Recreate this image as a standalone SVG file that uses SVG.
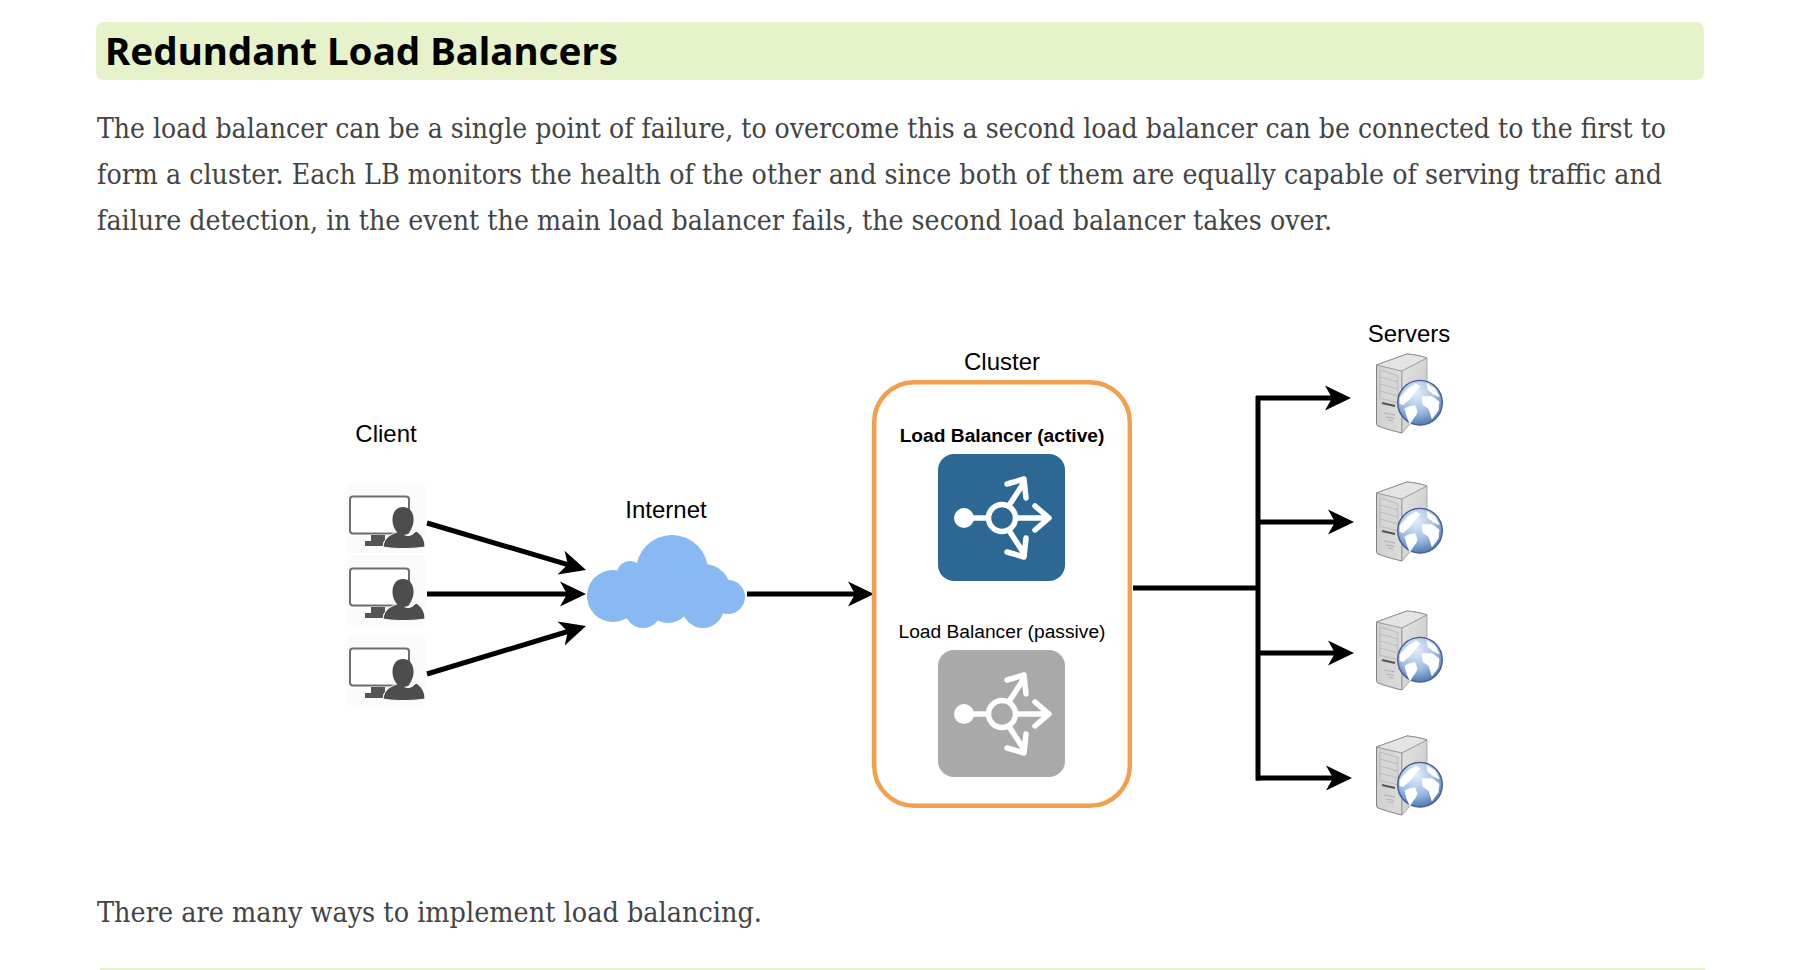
<svg xmlns="http://www.w3.org/2000/svg" width="1818" height="970" viewBox="0 0 1818 970">
<style>
.body{font-family:"DejaVu Serif","Liberation Serif",serif;font-size:27px;fill:#444}
.lbl{font-family:"Liberation Sans",Arial,sans-serif;font-size:24px;fill:#000;text-anchor:middle}
.lb{font-family:"Liberation Sans",Arial,sans-serif;font-size:19.2px;fill:#000;text-anchor:middle}
.conn{stroke:#000;stroke-width:5;fill:none;stroke-linejoin:miter}
.ar{marker-end:url(#arrow)}
.ico{stroke:#fff;stroke-width:5.5;fill:none;stroke-linecap:round;stroke-linejoin:round}
</style>
<defs>
<marker id="arrow" markerUnits="userSpaceOnUse" viewBox="-8 -13 28 26" refX="0" refY="0" markerWidth="28" markerHeight="26" orient="auto">
<path d="M19,0 L-7,-12.5 L0,0 L-7,12.5 Z" fill="#000"/>
</marker>
<linearGradient id="sfront" x1="0" y1="0" x2="1" y2="0"><stop offset="0" stop-color="#cfcfcf"/><stop offset="1" stop-color="#e9e9e9"/></linearGradient>
<linearGradient id="sside" x1="0" y1="0" x2="1" y2="1"><stop offset="0" stop-color="#e4e4e4"/><stop offset="1" stop-color="#c4c4c4"/></linearGradient>
<radialGradient id="glob" cx="0.42" cy="0.28" r="0.8"><stop offset="0" stop-color="#e6eef8"/><stop offset="0.55" stop-color="#9dbce2"/><stop offset="1" stop-color="#3a6aa6"/></radialGradient>
<g id="user">
<rect x="0" y="0" width="78" height="70" fill="#fbfbfb"/>
<rect x="3" y="13.5" width="59" height="37" rx="3" fill="#fff" stroke="#6e6e6e" stroke-width="2"/>
<rect x="18" y="58" width="18" height="5" fill="#555"/>
<rect x="24" y="52" width="14" height="7" fill="#555"/>
<path d="M36,64 C37,54 44,51 53,48 C58,54 64,54 69,48 C72,50 78,54 78,64 C66,66 46,66 36,64 Z" fill="#4d4d4d" stroke="#fff" stroke-width="1"/>
<path d="M56,24 C63,24 67,30 66.500,38 C66,46 61,52 56,52 C51,52 46,46 45.500,38 C45,30 49,24 56,24 Z" fill="#4d4d4d"/>
</g>
<g id="lbicon">
<circle cx="26" cy="64" r="10" fill="#fff"/>
<circle cx="64" cy="64" r="13.500" class="ico"/>
<path class="ico" d="M30,64H50M78,64H109M97,52L111,64L97,76"/>
<path class="ico" d="M72,50L85,30M69,30L86,25L88,44"/>
<path class="ico" d="M72,78L85,98M69,98L86,103L88,84"/>
</g>
<g id="server">
<path d="M0.500,12 L31,1 C37,1.500 46,3 51,5 L26,18 L26,80 C17,78 7,75 2,73 Q0.500,72.500 0.500,70 Z" fill="url(#sfront)" stroke="#808080" stroke-width="1"/>
<path d="M0.500,12 L31,1 C37,1.500 46,3 51,5 L26,18 Z" fill="#e4e4e4" stroke="#8a8a8a" stroke-width="0.8"/>
<path d="M26,18 L51,5 L51,52 L26,80 Z" fill="url(#sside)" stroke="#999" stroke-width="0.8"/>
<path d="M4,17 L22,22.500 V50 L4,45 Z" fill="#d6d6d6" stroke="#b0b0b0" stroke-width="0.7"/>
<path d="M4,24L22,29M4,31L22,36M4,38L22,43" stroke="#b4b4b4" stroke-width="0.8" fill="none"/>
<path d="M6,50L19,53" stroke="#555" stroke-width="2.200" fill="none"/>
<path d="M8,60L19,62M10,64L18,65.500M12,67L17,68" stroke="#aaa" stroke-width="0.9" fill="none"/>
<circle cx="44" cy="49.700" r="22.300" fill="url(#glob)" stroke="#4b5b8f" stroke-width="1.400"/>
<path transform="translate(44 49.700)" fill="#fff" stroke="#fff" stroke-width="0.8" stroke-linejoin="round" d="M-15,6 Q-10,3 -5,3 L-3,9 Q-4,13 -7,16 L-10,21 L-13,14 Z M-20,-5 L-13,-13 L-4,-19 L0,-16 L-5,-11 L-10,-4 L-17,2 L-20,1 Z M2,-6 L12,-6 L19,-1 L18,8 L12,16 L9,6 L3,2 Z M7,-19 L15,-14 L19,-6 L13,-9 L8,-13 Z"/>
</g>
</defs>
<rect width="1818" height="970" fill="#fff"/>
<g id="heading">
<rect x="96" y="22" width="1608" height="58" rx="8" fill="#e6f2ca"/>
<text x="105" y="65" font-family="'Noto Sans','Open Sans',sans-serif" font-weight="700" font-size="38" fill="#000" textLength="513" lengthAdjust="spacingAndGlyphs">Redundant Load Balancers</text>
</g>
<g id="paragraph">
<text class="body" x="97" y="138" textLength="1569" lengthAdjust="spacingAndGlyphs">The load balancer can be a single point of failure, to overcome this a second load balancer can be connected to the first to</text>
<text class="body" x="97" y="184" textLength="1565" lengthAdjust="spacingAndGlyphs">form a cluster. Each LB monitors the health of the other and since both of them are equally capable of serving traffic and</text>
<text class="body" x="97" y="230" textLength="1235" lengthAdjust="spacingAndGlyphs">failure detection, in the event the main load balancer fails, the second load balancer takes over.</text>
<text class="body" x="97" y="922" textLength="665" lengthAdjust="spacingAndGlyphs">There are many ways to implement load balancing.</text>
</g>
<rect id="bottom-rule" x="100" y="968" width="1605" height="2" fill="#e6f2ca"/>
<g id="connectors">
<path class="conn ar" d="M427,523L567.800,564.600"/>
<path class="conn ar" d="M427,594L567,594"/>
<path class="conn ar" d="M427,674L567.800,631.500"/>
<path class="conn ar" d="M747,594L855,594"/>
<path class="conn" d="M1133,588H1258"/>
<path class="conn" d="M1258,396V780.500"/>
<path class="conn ar" d="M1256,398H1332"/>
<path class="conn ar" d="M1258,522H1335"/>
<path class="conn ar" d="M1258,653H1335"/>
<path class="conn ar" d="M1256,778H1333"/>
</g>
<g id="client">
<text class="lbl" x="386" y="442">Client</text>
<use href="#user" x="347" y="483"/>
<use href="#user" x="347" y="555"/>
<use href="#user" x="347" y="635"/>
</g>
<g id="internet">
<text class="lbl" x="666" y="518">Internet</text>
<g fill="#88b9f2">
<circle cx="672" cy="571" r="36"/><circle cx="613" cy="596" r="26"/><circle cx="630" cy="574" r="13"/>
<circle cx="728" cy="597" r="17"/><circle cx="703" cy="607" r="21"/><circle cx="643" cy="610" r="18"/>
<circle cx="668" cy="600" r="23"/><circle cx="704" cy="591" r="27"/>
<ellipse cx="660" cy="592" rx="52" ry="27"/>
</g>
</g>
<g id="cluster">
<text class="lbl" x="1002" y="370">Cluster</text>
<rect x="874.200" y="382.200" width="255.600" height="423.600" rx="40" fill="none" stroke="#f2a04e" stroke-width="4.500"/>
</g>
<g id="lb-active">
<text class="lb" x="1002" y="442" font-weight="700">Load Balancer (active)</text>
<rect x="938" y="454" width="127" height="127" rx="16" fill="#2d6895"/>
<use href="#lbicon" x="938" y="454"/>
</g>
<g id="lb-passive">
<text class="lb" x="1002" y="638">Load Balancer (passive)</text>
<rect x="938" y="650" width="127" height="127" rx="16" fill="#a9a9a9"/>
<use href="#lbicon" x="938" y="650"/>
</g>
<g id="servers">
<text class="lbl" x="1409" y="342">Servers</text>
<use id="server-1" href="#server" x="1376" y="353"/>
<use id="server-2" href="#server" x="1376" y="481"/>
<use id="server-3" href="#server" x="1376" y="610"/>
<use id="server-4" href="#server" x="1376" y="735"/>
</g>
</svg>
